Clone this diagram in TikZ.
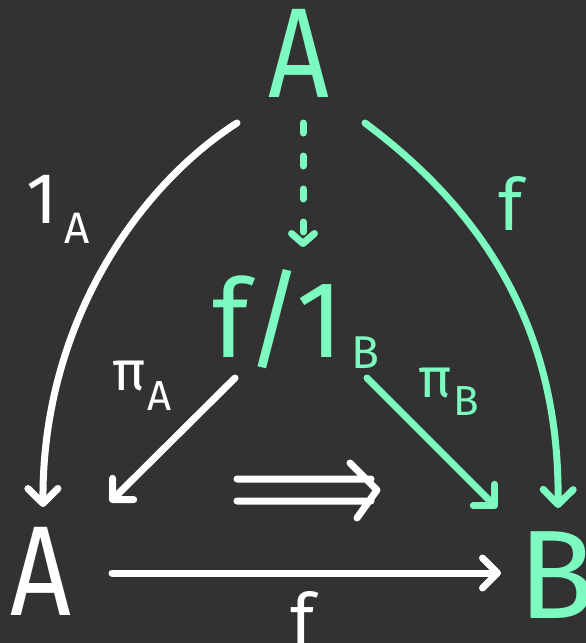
\documentclass[tikz,border=0pt]{standalone}
\usepackage{fontspec}
\setmainfont{Fira Sans}
\usetikzlibrary{arrows.meta,calc}
\definecolor{bg}{RGB}{50,50,50}
\definecolor{mint}{RGB}{125,250,192}
\newcommand{\fs}[1]{\fontsize{#1}{#1}\selectfont}
\newcommand{\narrowA}{\scalebox{0.83}[1]{A}}
\tikzset{
  txt/.style={inner sep=0pt, outer sep=0pt},
  arr/.style={line width=7pt, line cap=round, line join=round,
    -{Straight Barb[length=15pt,width=30pt,round]}},
  smallarr/.style={line width=7pt, line cap=round, line join=round,
    -{Straight Barb[length=10pt,width=23pt,round]}},
  dashline/.style={dash pattern=on 10pt off 23pt}
}
\begin{document}
\begin{tikzpicture}[x=1pt,y=1pt]
\fill[bg] (0,0) rectangle (586,-643);
\useasboundingbox (0,0) rectangle (586,-643);
% objects
\node[txt, anchor=base, text=mint] (tA) at (299,-97) {\fs{128}\narrowA};
\node[txt, anchor=base west, text=mint] (m) at (212,-357) {\fs{109}f/1\kern8pt\raisebox{-11pt}{\fs{46}B}};
\node[txt, anchor=base, text=white] (bA) at (41,-615) {\fs{128}\narrowA};
\node[txt, anchor=base, text=mint] (bB) at (557,-618) {\fs{126}B};
% labels
\node[txt, anchor=base west, text=white] (l1) at (26,-223) {\fs{72}1\kern7pt\raisebox{-20pt}{\fs{44}A}};
\node[txt, anchor=base west, text=mint] (lf) at (498,-230) {\fs{72}f};
\node[txt, anchor=base west, text=white] (lpa) at (112,-390) {\fs{56}π\kern2pt\raisebox{-20pt}{\fs{42}A}};
\node[txt, anchor=base west, text=mint] (lpb) at (418,-397) {\fs{56}π\kern2pt\raisebox{-18pt}{\fs{42}B}};
\node[txt, anchor=base, text=white] (lfb) at (303,-645) {\fs{72}f};
% connectors
\draw[arr, white] ($(tA.base)+(-62,-26)$) .. controls +(-97,-62) and +(-1,185) .. ($(bA.base)+(2,108)$);
\draw[arr, mint] ($(tA.base)+(66,-26)$) .. controls +(110,-82) and +(2,188) .. ($(bB.base)+(1,110)$);
\draw[smallarr, mint, dashline] ($(tA.base)+(4,-26)$) -- ($(m.base west)+(91,110)$);
\draw[arr, white] ($(m.base west)+(23,-21)$) -- ($(bA.base)+(69,113)$);
\draw[arr, mint] ($(m.base west)+(155,-21)$) -- ($(bB.base)+(-60,110)$);
\draw[arr, white] ($(bA.base)+(71,42)$) -- ($(bB.base)+(-56,45)$);
% 2-cell
\draw[white, line width=7pt, line cap=round, line join=round]
  (237,-479) -- (371,-479)
  (237,-501) -- (371,-501)
  (350,-463) -- (377,-490) -- (357,-518);
\end{tikzpicture}
\end{document}
